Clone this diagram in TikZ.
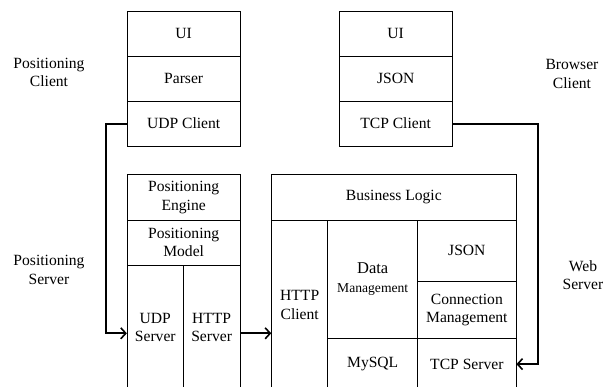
\documentclass[tikz,border=0pt]{standalone}
\usepackage{fontspec}
\setmainfont{Liberation Serif}
\usetikzlibrary{arrows.meta}
\begin{document}
\begin{tikzpicture}[x=1pt,y=-1pt,
  cell/.style={draw=black,line width=0.9pt,inner sep=0pt,align=center,
    font=\fontsize{15.6}{18.5}\selectfont},
  lbl/.style={inner sep=0pt,align=center,font=\fontsize{15.6}{18.5}\selectfont},
  conn/.style={line width=2pt,-{Straight Barb[length=5pt,width=11pt,line width=1.6pt]}},
  sz/.style 2 args={minimum width=#1pt,minimum height=#2pt}]
\useasboundingbox (0,0) rectangle (603,387);
\clip (0,0) rectangle (603,387);
% Positioning client
\node[cell,sz={112.7}{45}] (ui1) at (183.65,33.5) {UI};
\node[cell,sz={112.7}{45.3}] (parser) at (183.65,78.65) {Parser};
\node[cell,sz={112.7}{44.7}] (udpc) at (183.65,123.65) {UDP Client};
% Browser client
\node[cell,sz={113.3}{45}] (ui2) at (395.65,33.5) {UI};
\node[cell,sz={113.3}{45.3}] (json1) at (395.65,78.65) {JSON};
\node[cell,sz={113.3}{44.7}] (tcpc) at (395.65,123.65) {TCP Client};
% Positioning server
\node[cell,sz={112.7}{45.3}] (peng) at (183.65,197.35) {Positioning\\Engine};
\node[cell,sz={112.7}{45}] (pmod) at (183.65,242.5) {Positioning\\Model};
\node[cell,sz={56}{125}] (udps) at (155.3,327.5) {UDP\\Server};
\node[cell,sz={56.7}{125}] (https) at (211.65,327.5) {HTTP\\Server};
% Web server
\node[cell,sz={244.3}{45.3}] (blogic) at (393.85,197.35) {Business Logic};
\node[cell,sz={56}{170}] (httpc) at (299.7,305) {HTTP\\Client};
\node[cell,sz={90}{118.3}] (dm) at (372.7,279.15) {{\fontsize{16.5}{18}\selectfont Data}\\{\fontsize{13.6}{17}\selectfont Management}};
\node[cell,sz={90}{51.7}] (mysql) at (372.7,364.15) {MySQL};
\node[cell,sz={98.3}{61.7}] (json2) at (466.85,250.85) {JSON};
\node[cell,sz={98.3}{56.6}] (connm) at (466.85,310) {Connection\\Management};
\node[cell,sz={98.3}{51.7}] (tcps) at (466.85,364.15) {TCP Server};
% Labels
\node[lbl] (lpc) at (49,72.5) {Positioning\\Client};
\node[lbl] (lbc) at (572,74) {Browser\\Client};
\node[lbl] (lps) at (49,270) {Positioning\\Server};
\node[lbl] (lws) at (583,275) {Web\\Server};
% Connectors
\draw[conn] (udpc.west) -- ++(-21.3,0) |- ([yshift=-5.8pt]udps.west);
\draw[conn] ([yshift=-5.8pt]https.east) -- ([yshift=-5.8pt]https.east -| httpc.west);
\draw[conn] (tcpc.east) -- ++(85,0) |- (tcps.east);
\end{tikzpicture}
\end{document}
